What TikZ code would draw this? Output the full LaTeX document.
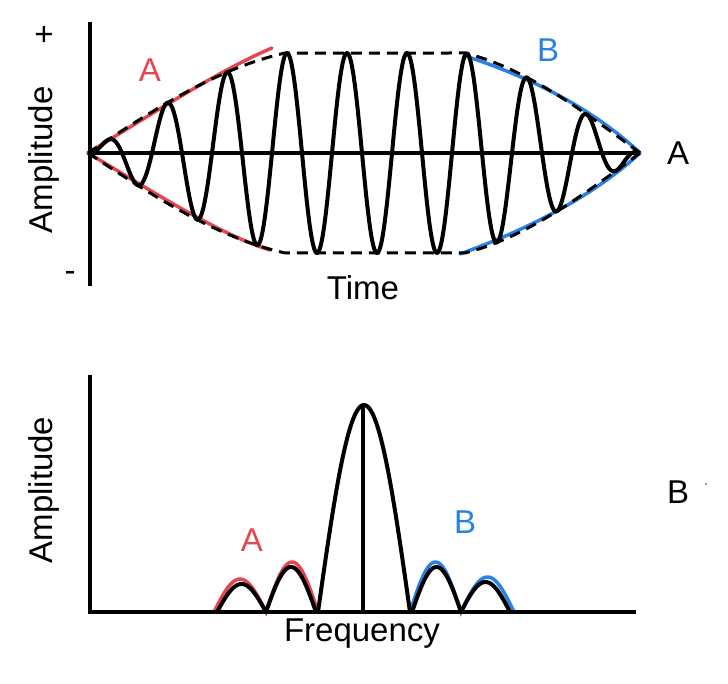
\documentclass[tikz,border=0pt]{standalone}
\usepackage{fontspec}
\setmainfont{Liberation Sans}
\definecolor{cr}{RGB}{230,70,80}
\definecolor{cb}{RGB}{40,130,230}
\begin{document}
\begin{tikzpicture}[x=1pt,y=-1pt,
  ax/.style={line width=3.5pt,black},
  wav/.style={line width=4pt,black,line join=round},
  envl/.style={line width=3pt,dash pattern=on 11pt off 7pt},
  redl/.style={line width=3.5pt,cr,line cap=round},
  blul/.style={line width=3.5pt,cb,line cap=round},
  lbl/.style={font=\fontsize{33}{33}\selectfont}]
\useasboundingbox (0,0) rectangle (728,684);
% top plot
\coordinate (o1) at (88,153);
\coordinate (e1) at (640,153);
\draw[redl] (o1) .. controls (150,115) and (220,70) .. (272,48);
\draw[redl] (o1) .. controls (150,190) and (220,235) .. (270,250);
\draw[blul] (465,56) .. controls (540,80) and (600,115) .. (e1);
\draw[blul] (460,254) .. controls (540,225) and (600,190) .. (e1);
\draw[envl] plot[variable=\t,domain=0:1,samples=60] ({88+197*\t},{153-106.4*sin(70*\t)}) -- (465,53) -- plot[variable=\t,domain=0:1,samples=60] ({465+175*\t},{153-106.4*sin(70*(1-\t))});
\draw[envl] plot[variable=\t,domain=0:1,samples=60] ({88+197*\t},{153+106.4*sin(70*\t)}) -- (465,253) -- plot[variable=\t,domain=0:1,samples=60] ({465+175*\t},{153+106.4*sin(70*(1-\t))});
\draw[wav] plot[variable=\t,domain=0:1,samples=250] ({88+197*\t},{153-106.4*sin(70*\t)*cos(6*(197*\t-199))})
  -- plot[variable=\t,domain=0:1,samples=200] ({285+180*\t},{153-100*cos(6*(180*\t-2))})
  -- plot[variable=\t,domain=0:1,samples=250] ({465+175*\t},{153-106.4*sin(70*(1-\t))*cos(6*(175*\t+178))});
\draw[ax] (90,22) -- (90,286);
\draw[ax] (o1) -- (e1);
\node[lbl] (plus) at (44,36) {+};
\node[lbl] (minus) at (70,276) {-};
\node[lbl,rotate=90] (amp1) at (44,160) {Amplitude};
\node[lbl] (time) at (363,288) {Time};
\node[lbl] (la) at (678,153) {A};
\node[lbl,text=cr] (ra) at (150,70) {A};
\node[lbl,text=cb] (bb) at (548,50) {B};
% bottom plot
\draw[redl] plot[variable=\t,domain=0:1,samples=40] ({214+52*\t},{612-33*sin(180*\t)})
  -- plot[variable=\t,domain=0:1,samples=40] ({266+52*\t},{612-50*sin(180*\t)});
\draw[blul] plot[variable=\t,domain=0:1,samples=40] ({410+51*\t},{612-50*sin(180*\t)})
  -- plot[variable=\t,domain=0:1,samples=40] ({461+53*\t},{612-35*sin(180*\t)});
\draw[wav] plot[variable=\t,domain=0:1,samples=40] ({217+49*\t},{612-28*sin(180*\t)})
  -- plot[variable=\t,domain=0:1,samples=40] ({266+50*\t},{612-45*sin(180*\t)});
\draw[wav] plot[variable=\t,domain=0:1,samples=40] ({412+49*\t},{612-45*sin(180*\t)})
  -- plot[variable=\t,domain=0:1,samples=40] ({461+49*\t},{612-30*sin(180*\t)});
\draw[wav] plot[variable=\t,domain=-1:1,samples=100] ({364+46*\t},{612-207*cos(90*\t)});
\draw[ax] (363,612) -- (363,405);
\draw[ax] (90,375) -- (90,614);
\draw[ax] (88,612) -- (636,612);
\node[lbl,rotate=90] (amp2) at (44,490) {Amplitude};
\node[lbl] (freq) at (362,634) {Frequency};
\node[lbl] (lb) at (678,492) {B};
\node[lbl,text=cr] (ra2) at (252,540) {A};
\node[lbl,text=cb] (bb2) at (465,522) {B};
\fill[cb] (706,484) circle (1.2);
\end{tikzpicture}
\end{document}
